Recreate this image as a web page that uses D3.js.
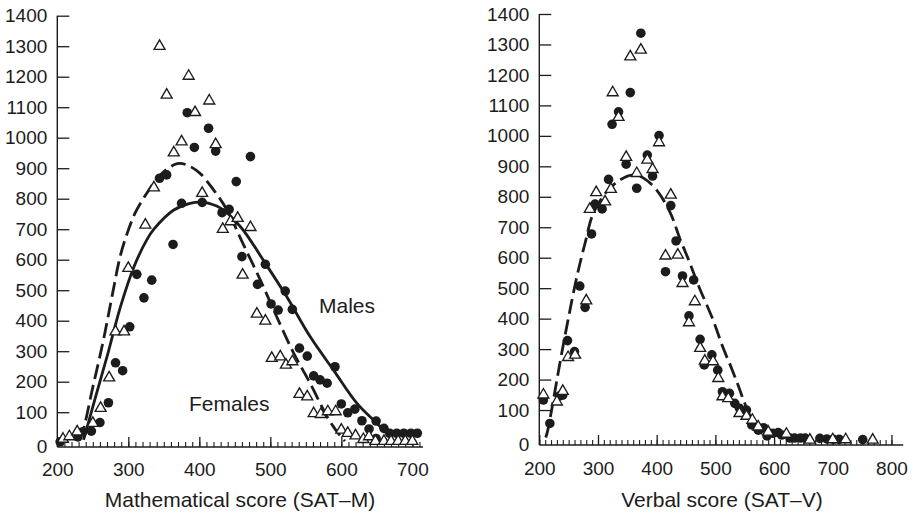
<!DOCTYPE html>
<html><head><meta charset="utf-8">
<script src="https://cdn.jsdelivr.net/npm/d3@7"></script>
<style>
html,body{margin:0;padding:0;background:#fff;}
svg{display:block;font-family:"Liberation Sans",Arial,Helvetica,sans-serif;}
</style></head><body>
<svg id="chart" width="918" height="518"></svg>
<script>
// ---------- DATA ----------
const yTickValues = [0,100,200,300,400,500,600,700,800,900,1000,1100,1200,1300,1400];
const mathXTicks = [200,300,400,500,600,700];
const verbalXTicks = [200,300,400,500,600,700,800];

// Mathematical score (SAT-M): [score, count]
const mathFemalePoints = [[208,12],[217,20],[228,36],[250,64],[261,113],[273,213],[282,364],[294,364],[300,572],[324,714],[336,836],[344,1300],[354,1140],[364,951],[375,987],[385,1202],[394,1083],[404,818],[414,1121],[423,978],[433,700],[444,725],[454,736],[461,550],[472,706],[481,422],[493,399],[502,277],[514,282],[522,255],[531,266],[541,159],[552,151],[561,96],[571,93],[581,102],[592,102],[600,42],[609,31],[620,23],[631,11],[639,20],[648,5],[660,5],[670,5],[680,5],[690,5],[700,5]];
const mathMalePoints = [[204,3],[229,19],[236,36],[248,38],[260,66],[272,131],[282,262],[292,236],[302,380],[312,552],[322,475],[333,533],[344,867],[354,878],[363,650],[375,785],[383,1082],[393,968],[404,788],[413,1031],[423,956],[432,754],[442,765],[452,856],[460,610],[472,938],[482,519],[493,585],[501,455],[511,435],[521,497],[531,437],[541,310],[552,284],[561,219],[570,206],[580,195],[591,249],[600,127],[609,98],[619,110],[629,72],[639,45],[649,71],[649,14],[660,47],[668,31],[678,31],[688,31],[698,31],[707,31]];
const mathFemaleCurve = [[230,10],[235,31],[250,182],[265,337],[277,479],[289,615],[300,697],[310,755],[326,818],[345,878],[369,915],[383,910],[401,883],[420,829],[439,763],[460,660],[486,533],[509,413],[533,293],[556,195],[580,85],[592,42],[605,5]];
const mathMaleCurve = [[237,9],[254,151],[270,282],[289,446],[308,577],[326,665],[336,700],[364,763],[387,785],[406,788],[430,769],[458,708],[493,588],[523,479],[556,348],[589,238],[622,129],[650,64],[664,31],[672,12]];

// Verbal score (SAT-V): [score, count]
const verbalTrianglePoints = [[207,150],[230,127],[240,162],[249,273],[261,281],[280,459],[286,759],[297,814],[312,784],[322,825],[325,1142],[335,1061],[348,930],[355,1260],[366,877],[373,1282],[384,921],[393,890],[404,978],[415,606],[424,806],[436,609],[444,516],[455,387],[465,456],[474,303],[482,261],[496,259],[505,204],[512,144],[522,138],[541,89],[553,80],[563,67],[573,45],[590,28],[621,21],[661,2],[700,3],[722,3],[768,2]];
const verbalDotPoints = [[207,133],[218,56],[234,146],[240,149],[248,328],[260,292],[269,507],[278,437],[289,678],[295,776],[307,760],[318,857],[324,1038],[335,1079],[348,907],[355,1142],[366,828],[373,1337],[384,937],[393,868],[404,1001],[415,554],[424,771],[433,655],[444,540],[455,409],[463,527],[474,332],[481,248],[494,281],[504,231],[512,160],[524,155],[533,122],[541,106],[553,100],[562,51],[573,34],[582,42],[588,15],[598,24],[607,26],[613,18],[627,8],[635,8],[645,8],[653,8],[678,7],[690,5],[701,4],[711,4],[751,3]];
const verbalCurve = [[211,10],[214,30],[223,122],[235,253],[249,396],[264,538],[278,648],[292,746],[315,817],[337,855],[360,872],[377,862],[400,822],[423,748],[440,660],[455,590],[472,505],[496,396],[513,305],[528,235],[540,175],[550,122],[567,52],[582,18],[590,8]];

const mathTitle = "Mathematical score (SAT\u2013M)";
const verbalTitle = "Verbal score (SAT\u2013V)";

// ---------- DRAW ----------
const svg = d3.select("#chart");
const ink = "#1c1c1c";
const tickFont = 19;
const titleFont = 21;

function panel(cfg) {
  const x = d3.scaleLinear().domain(cfg.xDomain).range(cfg.xRange);
  const y = d3.scaleLinear().domain([0, 1400]).range(cfg.yRange);
  const base = y(cfg.baseVal);
  const x0 = x(cfg.xDomain[0]);
  const g = svg.append("g").style("color", ink);

  g.append("line").attr("x1", x0).attr("x2", x0).attr("y1", y(1400)).attr("y2", base)
    .attr("stroke", ink).attr("stroke-width", 1.4);
  g.append("line").attr("x1", x0).attr("x2", x(cfg.xDomain[1])).attr("y1", base).attr("y2", base)
    .attr("stroke", ink).attr("stroke-width", 1.4);

  g.append("g").attr("transform", `translate(0,${base})`)
    .call(d3.axisBottom(x).tickValues(d3.range(cfg.xDomain[0], cfg.minorEnd + 1, 10)).tickSize(-5).tickFormat(""))
    .call(s => s.select(".domain").remove())
    .call(s => s.selectAll("line").attr("stroke-width", 1.1));
  g.append("g").attr("transform", `translate(0,${base})`)
    .call(d3.axisBottom(x).tickValues(cfg.xTicks).tickSize(-10).tickPadding(16).tickFormat(d3.format("d")))
    .call(s => s.select(".domain").remove())
    .call(s => s.selectAll("line").attr("stroke-width", 1.3))
    .call(s => s.selectAll("text").attr("font-size", tickFont).attr("font-family", "Liberation Sans, Arial, sans-serif"));
  g.append("g").attr("transform", `translate(${x0},0)`)
    .call(d3.axisLeft(y).tickValues(yTickValues.filter(v => v > 0)).tickSize(-12).tickPadding(10).tickFormat(d3.format("d")))
    .call(s => s.select(".domain").remove())
    .call(s => s.selectAll("line").attr("stroke-width", 1.3))
    .call(s => s.selectAll("text").attr("font-size", tickFont).attr("font-family", "Liberation Sans, Arial, sans-serif"));
  g.append("text").attr("x", x0 - 10).attr("y", base).attr("dy", "0.32em")
    .attr("text-anchor", "end").attr("font-size", tickFont).attr("fill", ink).text(yTickValues[0]);

  const line = d3.line().x(d => x(d[0])).y(d => y(d[1])).curve(d3.curveCatmullRom.alpha(0.5));
  cfg.curves.forEach(c => {
    g.append("path").attr("d", line(c.data)).attr("fill", "none").attr("stroke", ink)
      .attr("stroke-width", 2.8).attr("stroke-dasharray", c.dash || null).attr("stroke-linecap", "butt");
  });

  g.append("g").selectAll("circle").data(cfg.dots).join("circle")
    .attr("cx", d => x(d[0])).attr("cy", d => y(d[1])).attr("r", 4.8).attr("fill", ink);
  const tri = d3.symbol(d3.symbolTriangle).size(52);
  g.append("g").selectAll("path").data(cfg.triangles).join("path")
    .attr("d", tri).attr("transform", d => `translate(${x(d[0])},${y(d[1])})`)
    .attr("fill", "#fff").attr("stroke", ink).attr("stroke-width", 1.35);

  g.append("text").attr("x", cfg.titleX).attr("y", 507).attr("text-anchor", "middle")
    .attr("font-size", titleFont).attr("fill", ink).text(cfg.title);

  return { x, y, g };
}

const left = panel({
  xDomain: [200, 715], xRange: [57.3, 423], minorEnd: 710,
  yRange: [442.7, 15.7], baseVal: -14,
  xTicks: mathXTicks,
  curves: [{ data: mathFemaleCurve, dash: "15,6" }, { data: mathMaleCurve }],
  dots: mathMalePoints, triangles: mathFemalePoints,
  title: mathTitle, titleX: 240
});
left.g.append("text").attr("x", 319).attr("y", 313).attr("font-size", titleFont).attr("fill", ink).text("Males");
left.g.append("text").attr("x", 189).attr("y", 411).attr("font-size", titleFont).attr("fill", ink).text("Females");

panel({
  xDomain: [200, 820], xRange: [539.3, 903.2], minorEnd: 800,
  yRange: [440.5, 14], baseVal: -15,
  xTicks: verbalXTicks,
  curves: [{ data: verbalCurve, dash: "15,6" }],
  dots: verbalDotPoints, triangles: verbalTrianglePoints,
  title: verbalTitle, titleX: 722
});
</script>
</body></html>
